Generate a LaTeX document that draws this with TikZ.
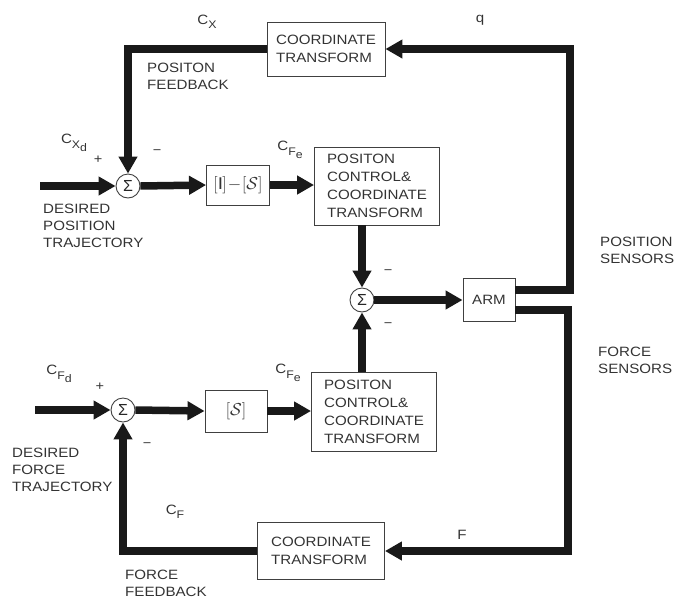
\documentclass[tikz,border=0pt]{standalone}
\usepackage{fontspec}
\setmainfont{Liberation Sans}[FakeStretch=1.12]
\newfontfamily\sigfont{Liberation Sans}
\usetikzlibrary{arrows.meta}
\newcommand{\sbs}[1]{\raisebox{-0.6ex}{\fontsize{11}{12}\selectfont #1}}
\begin{document}
\begin{tikzpicture}[x=1pt,y=-1pt,
  blk/.style={draw=black!75,line width=0.9pt,rectangle,inner sep=2pt,align=left,font=\fontsize{13.5}{18}\selectfont,text=black!80},
  mathblk/.style={font=\fontsize{17}{20}\selectfont},
  sumnode/.style={draw=black!75,line width=0.9pt,circle,minimum size=24pt,inner sep=0pt,font=\sigfont\fontsize{16}{16}\selectfont,text=black!85},
  sig/.style={line width=7.5pt,-{Triangle[length=17pt,width=18pt]},black!90},
  lbl/.style={font=\fontsize{13.5}{17}\selectfont,text=black!80,align=left,inner sep=0pt},
  sym/.style={font=\fontsize{13}{14}\selectfont,text=black!80,inner sep=0pt}]
\useasboundingbox (0,0) rectangle (677,606);
% blocks
\node[blk,minimum width=118pt,minimum height=54pt] (ctTop) at (326,49) {COORDINATE\\TRANSFORM};
\node[sumnode] (s1) at (128,186) {Σ};
\node[blk,mathblk,minimum width=63pt,minimum height=40pt] (box1) at (238,185) {\fontsize{17}{20}\selectfont$[\mathrm{I}]\!-\![\mathcal{S}]$};
\node[blk,minimum width=125pt,minimum height=78pt] (pc1) at (377,186) {POSITON\\CONTROL\&\\COORDINATE\\TRANSFORM};
\node[sumnode] (s2) at (362,300) {Σ};
\node[blk,minimum width=52pt,minimum height=43pt] (arm) at (489,300) {ARM};
\node[blk,minimum width=125pt,minimum height=79pt] (pc2) at (374,412) {POSITON\\CONTROL\&\\COORDINATE\\TRANSFORM};
\node[blk,mathblk,minimum width=62pt,minimum height=42pt] (box2) at (236,411) {\fontsize{17}{20}\selectfont$[\mathcal{S}]$};
\node[sumnode] (s3) at (123,410) {Σ};
\node[blk,minimum width=127pt,minimum height=57pt] (ctBot) at (321,551) {COORDINATE\\TRANSFORM};
% coordinates
\coordinate (in1) at (40,186);
\coordinate (in3) at (35,410);
\coordinate (qc) at (570,49);
\coordinate (fc) at (568,551);
% connectors
\draw[sig] ([yshift=10pt]arm.east) -| (qc) -- (ctTop.east);
\draw[sig] (ctTop.west) -| (s1.north);
\draw[sig] (in1) -- (s1.west);
\draw[sig] (s1.east) -- (box1.west);
\draw[sig] (box1.east) -- (box1.east -| pc1.west);
\draw[sig] (pc1.south -| s2.north) -- (s2.north);
\draw[sig] (s2.east) -- (arm.west);
\draw[sig] ([yshift=-10pt]arm.east) -| (fc) -- (ctBot.east);
\draw[sig] (ctBot.west) -| (s3.south);
\draw[sig] (in3) -- (s3.west);
\draw[sig] (s3.east) -- (box2.west);
\draw[sig] (box2.east) -- (box2.east -| pc2.west);
\draw[sig] (pc2.north -| s2.south) -- (s2.south);
% labels
\node[lbl] (lcx) at (207,22) {C\sbs{X}};
\node[lbl] (lq) at (480,20) {q};
\node[lbl,anchor=north west] (lpf) at (147,63) {POSITON\\FEEDBACK};
\node[lbl] (lcxd) at (74,143) {C\sbs{X\sbs{d}}};
\node[sym] (p1) at (98,160) {+};
\node[sym] (m1) at (157,152) {\textminus};
\node[lbl] (lcfe1) at (290,150) {C\sbs{F\sbs{e}}};
\node[lbl,anchor=north west] (ldpt) at (43,204) {DESIRED\\POSITION\\TRAJECTORY};
\node[lbl,anchor=north west] (lps) at (600,237) {POSITION\\SENSORS};
\node[sym] (m2) at (388,272) {\textminus};
\node[sym] (m3) at (388,325) {\textminus};
\node[lbl,anchor=north west] (lfs) at (598,347) {FORCE\\SENSORS};
\node[lbl] (lcfd) at (59,374) {C\sbs{F\sbs{d}}};
\node[sym] (p3) at (100,387) {+};
\node[lbl] (lcfe2) at (288,373) {C\sbs{F\sbs{e}}};
\node[sym] (m4) at (147,445) {\textminus};
\node[lbl,anchor=north west] (ldft) at (12,448) {DESIRED\\FORCE\\TRAJECTORY};
\node[lbl] (lcf) at (175,512) {C\sbs{F}};
\node[lbl] (lf) at (462,535) {F};
\node[lbl,anchor=north west] (lff) at (125,570) {FORCE\\FEEDBACK};
\end{tikzpicture}
\end{document}
